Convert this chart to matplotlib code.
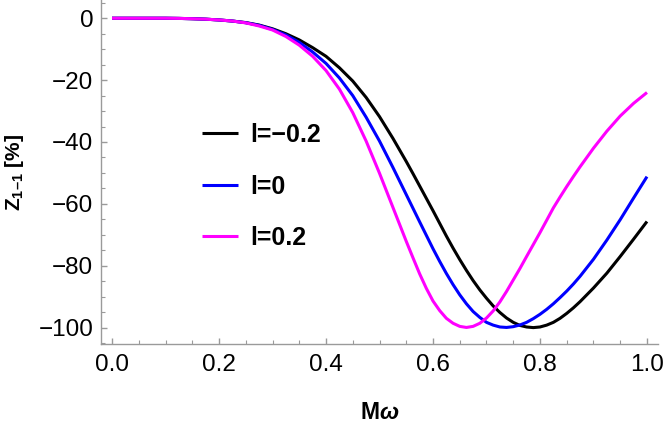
import matplotlib
matplotlib.use("Agg")
import matplotlib.pyplot as plt
from matplotlib.ticker import MultipleLocator, FuncFormatter

# ---- data ----
x_vals = [0.0, 0.025, 0.05, 0.075, 0.1, 0.125, 0.15, 0.175, 0.2, 0.225,
          0.25, 0.275, 0.3, 0.325, 0.35, 0.375, 0.4, 0.425, 0.45, 0.475,
          0.5, 0.525, 0.55,
          0.5625, 0.575, 0.5875, 0.6, 0.6125, 0.625, 0.6375, 0.65, 0.6625, 0.675,
          0.6875, 0.7, 0.7125, 0.725, 0.7375, 0.75, 0.7625, 0.775, 0.7875, 0.8,
          0.8125, 0.825, 0.8375, 0.85, 0.8625, 0.875,
          0.9, 0.925, 0.95, 0.975, 1.0]

z_lm02 = [0, 0, 0, 0, 0, -0.05, -0.15, -0.3, -0.55, -0.9,
          -1.4, -2.2, -3.4, -5.0, -7.0, -9.5, -12.3, -16.0, -20.3, -25.6,
          -31.8, -38.8, -46.3,
          -50.2, -54.2, -58.2, -62.2, -66.3, -70.4, -74.3, -78.0, -81.5, -84.8,
          -87.8, -90.5, -93.0, -95.1, -96.9, -98.3, -99.3, -99.8, -100.0, -99.8,
          -99.2, -98.3, -97.0, -95.4, -93.6, -91.6,
          -87.2, -82.4, -77.0, -71.4, -65.7]

z_l0 = [0, 0, 0, 0, 0, -0.05, -0.15, -0.3, -0.55, -0.9,
        -1.45, -2.3, -3.6, -5.4, -7.8, -10.9, -14.6, -19.3, -25.0, -32.0,
        -39.7, -48.2, -57.0,
        -61.4, -65.8, -70.15, -74.5, -78.6, -82.5, -86.1, -89.4, -92.3, -94.8,
        -96.7, -98.3, -99.2, -99.8, -99.95, -99.7, -99.15, -98.3, -97.1, -95.7,
        -94.1, -92.3, -90.3, -88.2, -85.9, -83.4,
        -77.9, -71.7, -65.1, -58.1, -51.2]

z_lp02 = [0, 0, 0, 0, 0, -0.05, -0.15, -0.3, -0.55, -0.9,
          -1.5, -2.5, -3.8, -5.9, -8.7, -12.3, -16.9, -22.9, -30.5, -39.7,
          -50.1, -61.1, -72.1,
          -77.4, -82.6, -87.3, -91.4, -94.5, -97.0, -98.6, -99.6, -99.95, -99.6,
          -98.6, -96.9, -94.6, -91.7, -88.3, -84.6, -80.9, -77.0, -73.15, -69.3,
          -65.3, -61.3, -57.8, -54.4, -51.15, -48.0,
          -42.0, -36.5, -31.6, -27.5, -24.0]

labels = ["l=\u22120.2", "l=0", "l=0.2"]
colors = ["#000000", "#0000FF", "#FF00FF"]
series = [z_lm02, z_l0, z_lp02]

x_ticks = [0.0, 0.2, 0.4, 0.6, 0.8, 1.0]
y_ticks = [0, -20, -40, -60, -80, -100]

# ---- style ----
plt.rcParams["font.family"] = ["Liberation Sans", "DejaVu Sans"]
plt.rcParams["mathtext.fontset"] = "custom"
plt.rcParams["mathtext.rm"] = "Liberation Sans"
plt.rcParams["mathtext.bf"] = "Liberation Sans:bold"
plt.rcParams["mathtext.it"] = "Liberation Sans:italic"
plt.rcParams["mathtext.bfit"] = "Liberation Sans:bold:italic"

W, H = 664, 423
fig = plt.figure(figsize=(W / 100, H / 100), dpi=100)
ax = fig.add_axes([101 / W, 1 - 344 / H, (658 - 101) / W, 344 / H])

for ys, c, lab in zip(series, colors, labels):
    ax.plot(x_vals, ys, color=c, lw=2.2, label=lab,
            solid_joinstyle="round", solid_capstyle="butt")

ax.set_xlim(-0.0206, 1.0206)
ax.set_ylim(-105.3, 5.9)

axis_gray = "#9a9a9a"
for side in ("top", "right"):
    ax.spines[side].set_visible(False)
for side in ("left", "bottom"):
    ax.spines[side].set_color(axis_gray)
    ax.spines[side].set_linewidth(1.0)

ax.set_xticks(x_ticks)
ax.set_yticks(y_ticks)
ax.xaxis.set_minor_locator(MultipleLocator(0.05))
ax.yaxis.set_minor_locator(MultipleLocator(5))
ax.xaxis.set_major_formatter(FuncFormatter(lambda v, p: f"{v:.1f}"))
ax.yaxis.set_major_formatter(FuncFormatter(
    lambda v, p: ("\u2212" if v < 0 else "") + f"{abs(v):.0f}"))

ax.tick_params(which="major", direction="in", length=4.5, width=1.0, color=axis_gray,
               labelsize=17.5, labelcolor="black")
ax.tick_params(which="minor", direction="in", length=2.6, width=0.8, color=axis_gray)
ax.tick_params(axis="x", which="major", pad=7)
ax.tick_params(axis="y", which="major", pad=5.5)

ax.set_xlabel(r"$\mathbf{M}\boldsymbol{\omega}$", fontsize=16.5, fontweight="bold")
ax.xaxis.set_label_coords((380 - 101) / 557, (344 - 401) / 344)
ax.set_ylabel("$\\mathbf{Z}_{\\mathbf{1\u20131}}$ [%]", fontsize=15, fontweight="bold")
ax.yaxis.set_label_coords((26 - 101) / 557, (344 - 172) / 344)

leg = ax.legend(loc="upper left", bbox_to_anchor=(202 / W, 1 - 123 / H),
                bbox_transform=fig.transFigure, frameon=False,
                prop={"weight": "bold", "size": 18},
                handlelength=1.44, handletextpad=0.48, labelspacing=1.1,
                borderpad=0, borderaxespad=0)

fig.savefig("out.png", dpi=100)
